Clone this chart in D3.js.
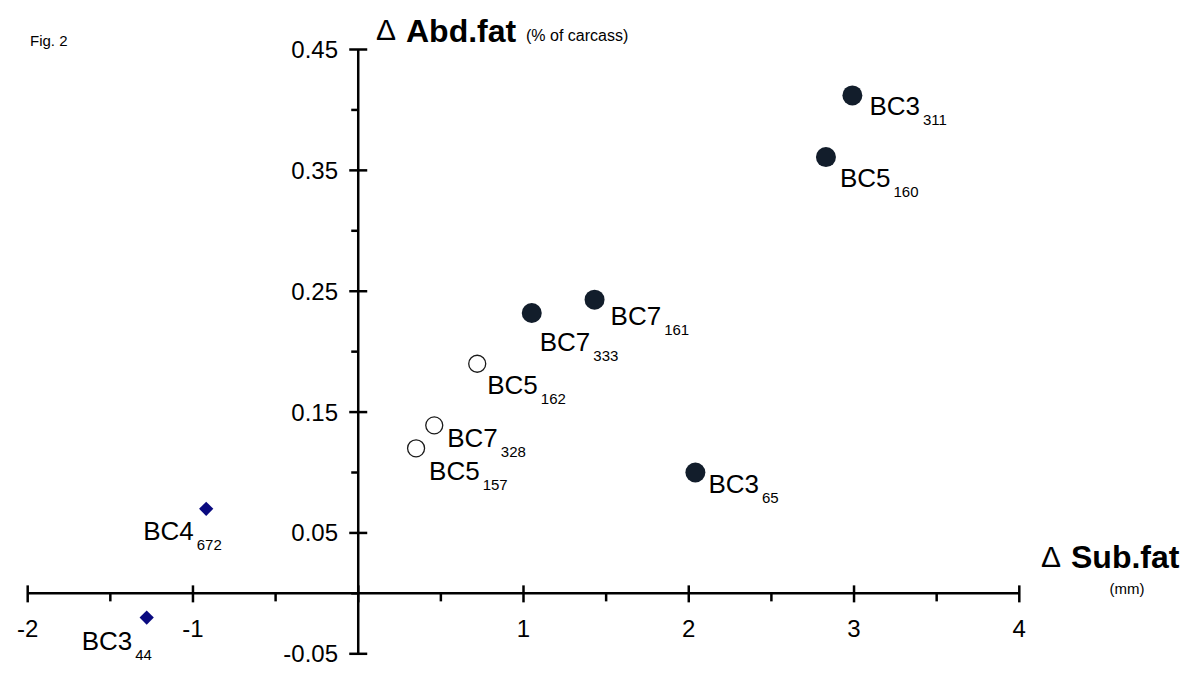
<!DOCTYPE html>
<html><head><meta charset="utf-8">
<script src="https://cdn.jsdelivr.net/npm/d3@7"></script>
<style>body{margin:0;background:#fff}svg{display:block}text{font-family:Arial,"Liberation Sans",sans-serif}</style>
</head><body>
<svg id="c" width="1200" height="691"></svg>
<script>
// ---- data ----
const pointNames = ["BC3","BC5","BC7","BC7","BC5","BC7","BC5","BC3","BC4","BC3"];
const pointSubs  = ["311","160","161","333","162","328","157","65","672","44"];
const subFatX    = [2.99, 2.83, 1.43, 1.05, 0.72, 0.46, 0.35, 2.04, -0.92, -1.28];
const abdFatY    = [0.412, 0.361, 0.243, 0.232, 0.190, 0.139, 0.120, 0.100, 0.070, -0.020];
const groups     = ["filled","filled","filled","filled","open","open","open","filled","diamond","diamond"];
const xMajorTicks = [-2,-1,0,1,2,3,4];
const xTickLabels = ["-2","-1","","1","2","3","4"];
const xMinorTicks = [-1.5,-0.5,0.5,1.5,2.5,3.5];
const yMajorTicks = [0.45,0.35,0.25,0.15,0.05,-0.05];
const yTickLabels = ["0.45","0.35","0.25","0.15","0.05","-0.05"];
const yMinorTicks = [0.40,0.30,0.20,0.10,0.0];

// ---- layout (label offsets from point, px) ----
const labelOffsets = [[17,20],[14,30],[16,25],[8,38],[10,30],[13,22],[13,32],[13,20],[-63,31],[-65,32]];

const svg = d3.select("#c");
const x = d3.scaleLinear().domain([-2,4]).range([27.7,1019.3]);
const y = d3.scaleLinear().domain([-0.05,0.45]).range([653.8,49.5]);
const x0 = x(0), y0 = y(0);
const ink = "#000", lw = 2.5;

// Fig label
svg.append("text").attr("x",30).attr("y",46).attr("font-size",15).text("Fig. 2");

// axes lines
svg.append("line").attr("x1",x(-2)).attr("x2",x(4)).attr("y1",y0).attr("y2",y0).attr("stroke",ink).attr("stroke-width",lw);
svg.append("line").attr("x1",x0).attr("x2",x0).attr("y1",y(0.45)).attr("y2",y(-0.05)).attr("stroke",ink).attr("stroke-width",lw);

// x ticks
svg.selectAll(".xmaj").data(xMajorTicks).join("line")
  .attr("x1",d=>x(d)).attr("x2",d=>x(d)).attr("y1",y0-8).attr("y2",y0+9)
  .attr("stroke",ink).attr("stroke-width",lw);
svg.selectAll(".xmin").data(xMinorTicks).join("line")
  .attr("x1",d=>x(d)).attr("x2",d=>x(d)).attr("y1",y0).attr("y2",y0+8)
  .attr("stroke",ink).attr("stroke-width",lw);
svg.selectAll(".xlab").data(xMajorTicks).join("text")
  .attr("x",d=>x(d)).attr("y",637).attr("text-anchor","middle").attr("font-size",24)
  .text((d,i)=>xTickLabels[i]);

// y ticks
svg.selectAll(".ymaj").data(yMajorTicks).join("line")
  .attr("x1",x0-9).attr("x2",x0+9).attr("y1",d=>y(d)).attr("y2",d=>y(d))
  .attr("stroke",ink).attr("stroke-width",lw);
svg.selectAll(".ymin").data(yMinorTicks).join("line")
  .attr("x1",x0-7).attr("x2",x0).attr("y1",d=>y(d)).attr("y2",d=>y(d))
  .attr("stroke",ink).attr("stroke-width",lw);
svg.selectAll(".ylab").data(yMajorTicks).join("text")
  .attr("x",338).attr("y",d=>y(d)+8.5).attr("text-anchor","end").attr("font-size",24)
  .text((d,i)=>yTickLabels[i]);

// axis titles
const serif = "'Liberation Serif','DejaVu Serif',serif";
svg.append("text").attr("x",376).attr("y",40).attr("font-family",serif).attr("font-size",30).text("\u0394");
svg.append("text").attr("x",406).attr("y",42).attr("font-weight","bold").attr("font-size",32).text("Abd.fat");
svg.append("text").attr("x",526).attr("y",41).attr("font-size",16).text("(% of carcass)");

svg.append("text").attr("x",1041).attr("y",567).attr("font-family",serif).attr("font-size",30).text("\u0394");
svg.append("text").attr("x",1071).attr("y",568).attr("font-weight","bold").attr("font-size",32).text("Sub.fat");
svg.append("text").attr("x",1127).attr("y",594).attr("text-anchor","middle").attr("font-size",15).text("(mm)");

// points
const idx = d3.range(pointNames.length);
svg.selectAll(".circ").data(idx.filter(i=>groups[i]!=="diamond")).join("circle")
  .attr("cx",i=>x(subFatX[i])).attr("cy",i=>y(abdFatY[i]))
  .attr("r",i=>groups[i]==="filled"?10:8.5)
  .attr("fill",i=>groups[i]==="filled"?"#121d2b":"#fff")
  .attr("stroke",i=>groups[i]==="filled"?"none":"#1a1a1a")
  .attr("stroke-width",1.3);
svg.selectAll(".dia").data(idx.filter(i=>groups[i]==="diamond")).join("path")
  .attr("d",d3.symbol(d3.symbolDiamond2,130)())
  .attr("transform",i=>`translate(${x(subFatX[i])},${y(abdFatY[i])})`)
  .attr("fill","#0a0a80");

// labels
const lab = svg.selectAll(".lab").data(idx).join("text")
  .attr("x",i=>x(subFatX[i])+labelOffsets[i][0])
  .attr("y",i=>y(abdFatY[i])+labelOffsets[i][1])
  .attr("font-size",26);
lab.append("tspan").text(i=>pointNames[i]);
lab.append("tspan").attr("font-size",15).attr("dx",3).attr("dy",10).text(i=>pointSubs[i]);
</script>
</body></html>
